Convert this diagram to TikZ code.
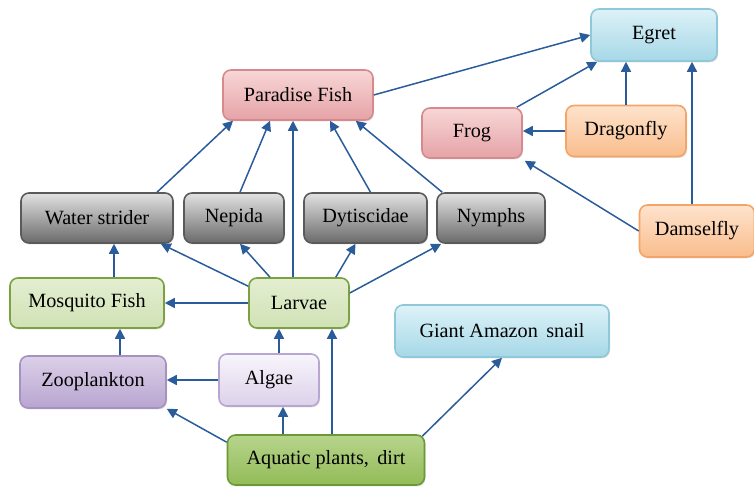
\documentclass[tikz,border=0pt]{standalone}
\usepackage{fontspec}
\setmainfont{Liberation Serif}
\usetikzlibrary{arrows.meta,shadows}
\definecolor{arrowblue}{HTML}{2A5B9A}
\definecolor{bluetop}{HTML}{DDF2F8}
\definecolor{bluebot}{HTML}{A6D8E7}
\definecolor{blueline}{HTML}{8FC8D8}
\definecolor{pinktop}{HTML}{F8D6D7}
\definecolor{pinkbot}{HTML}{E5A3A6}
\definecolor{pinkline}{HTML}{D68A8E}
\definecolor{orangetop}{HTML}{FEE3CD}
\definecolor{orangebot}{HTML}{F9BD8C}
\definecolor{orangeline}{HTML}{F3A466}
\definecolor{graytop}{HTML}{E2E2E2}
\definecolor{graybot}{HTML}{6A6A6A}
\definecolor{grayline}{HTML}{5A5A5A}
\definecolor{lgreentop}{HTML}{E3EED0}
\definecolor{lgreenbot}{HTML}{D1E2B5}
\definecolor{lgreenline}{HTML}{7AA240}
\definecolor{dgreentop}{HTML}{B7D48C}
\definecolor{dgreenbot}{HTML}{92BB58}
\definecolor{dgreenline}{HTML}{6C9934}
\definecolor{purpletop}{HTML}{DCD0E8}
\definecolor{purplebot}{HTML}{B8A5D0}
\definecolor{purpleline}{HTML}{A591C2}
\definecolor{lilactop}{HTML}{F8F5FB}
\definecolor{lilacbot}{HTML}{DCD1EA}
\definecolor{lilacline}{HTML}{B8A6D2}

\begin{document}
\begin{tikzpicture}[
  x=0.02cm, y=-0.02cm,
  box/.style     ={rounded corners=4.5pt, line width=0.9pt, minimum height=1cm,
                   font=\fontsize{11.5}{13}\selectfont, inner sep=2pt,
                   drop shadow={shadow xshift=0.6pt, shadow yshift=-0.8pt, opacity=0.25}},
  bluebox/.style ={box, draw=blueline, top color=bluetop, bottom color=bluebot},
  pinkbox/.style ={box, draw=pinkline, top color=pinktop, bottom color=pinkbot},
  orangebox/.style ={box, draw=orangeline, top color=orangetop, bottom color=orangebot},
  graybox/.style ={box, draw=grayline, top color=graytop, bottom color=graybot},
  lgreenbox/.style ={box, draw=lgreenline, top color=lgreentop, bottom color=lgreenbot},
  dgreenbox/.style ={box, draw=dgreenline, top color=dgreentop, bottom color=dgreenbot},
  purplebox/.style ={box, draw=purpleline, top color=purpletop, bottom color=purplebot},
  lilacbox/.style ={box, draw=lilacline, top color=lilactop, bottom color=lilacbot},
  eat/.style     ={-{Triangle[length=2mm, width=2mm]}, line width=0.85pt, arrowblue},
]
\useasboundingbox (0,0) rectangle (754,487);

% ---------------- top: predators ----------------
\node[bluebox,   minimum width=2.52cm, minimum height=1.04cm] (egret)  at (654,35)  {Egret};
\node[pinkbox,   minimum width=3.0cm]                         (pfish)  at (298,95)  {Paradise Fish};
\node[pinkbox,   minimum width=2.0cm]                         (frog)   at (472,133) {Frog};
\node[orangebox, minimum width=2.4cm, minimum height=1.02cm]  (dragon) at (626,131) {Dragonfly};
\node[orangebox, minimum width=2.3cm, minimum height=1.04cm]  (damsel) at (697,231) {Damselfly};

% ---------------- middle: insects ----------------
\node[graybox, minimum width=3.04cm] (strider) at (97,218)    {Water strider};
\node[graybox, minimum width=2.0cm]  (nepida)  at (234,218)   {Nepida};
\node[graybox, minimum width=2.46cm] (dytis)   at (365.5,218) {Dytiscidae};
\node[graybox, minimum width=2.16cm] (nymphs)  at (491,218)   {Nymphs};

% ---------------- lower: producers and grazers ----------------
\node[lgreenbox, minimum width=3.08cm] (mosq)   at (87,303)  {Mosquito Fish};
\node[lgreenbox, minimum width=2.0cm]  (larvae) at (299,303) {Larvae};
\node[bluebox,   minimum width=4.28cm, minimum height=1.04cm] (snail) at (502,331) {Giant Amazon\, snail};
\node[purplebox, minimum width=2.92cm, minimum height=1.04cm] (zoo)   at (93,382)  {Zooplankton};
\node[lilacbox,  minimum width=2.0cm,  minimum height=1.04cm] (algae) at (269,380) {Algae};
\node[dgreenbox, minimum width=3.94cm] (aqua) at (326,460) {Aquatic plants,\, dirt};

% ---------------- who eats whom ----------------
\draw[eat] (pfish.east) -- (egret.west);
\draw[eat] ([xshift=-0.12cm]frog.north east) -- ([xshift=0.14cm]egret.south west);
\draw[eat] (dragon.north) -- (dragon.north |- egret.south);
\draw[eat] ([xshift=-0.1cm]damsel.north) -- ([xshift=-0.1cm]damsel.north |- egret.south);
\draw[eat] (dragon.west) -- (dragon.west -| frog.east);
\draw[eat] (damsel.west) -- ([xshift=0.04cm,yshift=-0.04cm]frog.south east);

\draw[eat] ([xshift=1.2cm]strider.north) -- ([xshift=-1.3cm]pfish.south);
\draw[eat] ([xshift=0.12cm]nepida.north) -- ([xshift=-0.56cm]pfish.south);
\draw[eat] ([xshift=-0.12cm]larvae.north) -- ([xshift=-0.12cm]larvae.north |- pfish.south);
\draw[eat] ([xshift=0.1cm]dytis.north) -- ([xshift=0.64cm]pfish.south);
\draw[eat] ([xshift=0.12cm]nymphs.north west) -- ([xshift=-0.36cm]pfish.south east);

\draw[eat] ([yshift=-0.18cm]larvae.north west) -- ([xshift=-0.26cm]strider.south east);
\draw[eat] ([xshift=-0.58cm]larvae.north) -- ([xshift=0.12cm]nepida.south);
\draw[eat] ([xshift=-0.28cm]larvae.north east) -- ([xshift=-0.2cm]dytis.south);
\draw[eat] ([yshift=0.2cm]larvae.east) -- ([xshift=0.1cm]nymphs.south west);
\draw[eat] (larvae.west) -- (mosq.east);
\draw[eat] ([xshift=0.54cm]mosq.north) -- ([xshift=0.54cm]mosq.north |- strider.south);

\draw[eat] ([xshift=0.54cm]zoo.north) -- ([xshift=0.54cm]zoo.north |- mosq.south);
\draw[eat] (algae.west) -- (algae.west -| zoo.east);
\draw[eat] ([xshift=0.2cm]algae.north) -- ([xshift=0.2cm]algae.north |- larvae.south);
\draw[eat] ([yshift=-0.16cm]aqua.north west) -- (zoo.south east);
\draw[eat] ([xshift=-0.86cm]aqua.north) -- ([xshift=-0.86cm]aqua.north |- algae.south);
\draw[eat] ([xshift=0.12cm]aqua.north) -- ([xshift=0.12cm]aqua.north |- larvae.south);
\draw[eat] ([xshift=-0.06cm,yshift=-0.04cm]aqua.north east) -- (snail.south);

\end{tikzpicture}
\end{document}
